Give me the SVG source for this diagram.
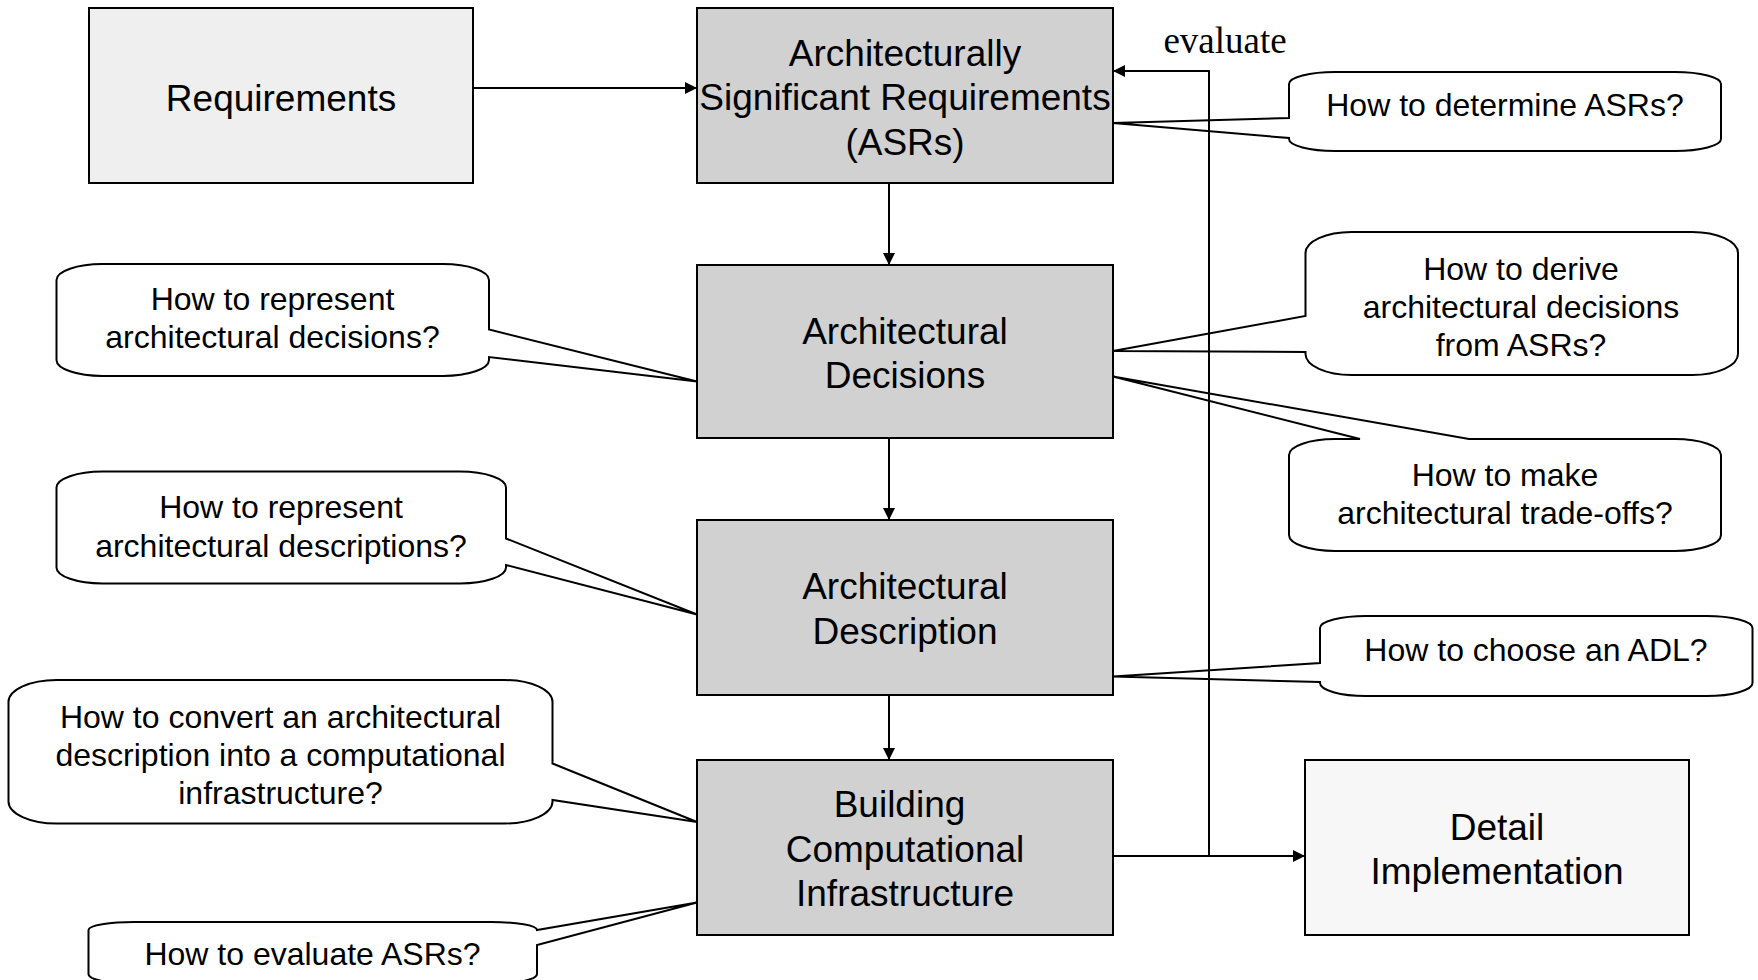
<svg xmlns="http://www.w3.org/2000/svg" width="1758" height="980" viewBox="0 0 1758 980">
<defs>
<style>
.box{stroke:#000;stroke-width:2}
.main{fill:#d1d1d1}
.light{fill:#efefef}
.lighter{fill:#f7f7f7}
.call{fill:#fff;stroke:#000;stroke-width:2;stroke-linejoin:miter}
.t{font-family:"Liberation Sans",Arial,sans-serif;font-size:37px;fill:#000;text-anchor:middle}
.ct{font-family:"Liberation Sans",Arial,sans-serif;font-size:32px;fill:#000;text-anchor:middle}
.lbl{font-family:"Liberation Serif","Times New Roman",serif;font-size:37px;fill:#000;text-anchor:middle}
.conn{fill:none;stroke:#000;stroke-width:2}
</style>
<marker id="arr" viewBox="0 0 12 12" refX="12" refY="6" markerWidth="12" markerHeight="12" markerUnits="userSpaceOnUse" orient="auto">
<path d="M0,0 L12,6 L0,12 Z" fill="#000"/>
</marker>
</defs>
<rect width="1758" height="980" fill="#fff"/>

<g id="callout-determine">
<path class="call" d="M1335,72 H1675 A46 12 0 0 1 1721,84 V139 A46 12 0 0 1 1675,151 H1335 A46 12 0 0 1 1289,139 V138 L1113,123 L1289,118 V84 A46 12 0 0 1 1335,72 Z"/>
<text class="ct" x="1505" y="116">How to determine ASRs?</text>
</g>
<g id="callout-derive">
<path class="call" d="M1351.5,232 H1692 A46 21 0 0 1 1738,253 V354 A46 21 0 0 1 1692,375 H1351.5 A46 21 0 0 1 1305.5,354 V352 L1113,351 L1305.5,316 V253 A46 21 0 0 1 1351.5,232 Z"/>
<text class="ct" x="1521" y="279.5">How to derive</text>
<text class="ct" x="1521" y="317.5">architectural decisions</text>
<text class="ct" x="1521" y="355.5">from ASRs?</text>
</g>
<g id="callout-tradeoffs">
<path class="call" d="M1289,455 A46 16 0 0 1 1335,439 H1360 L1113,376.5 L1469,439 H1675 A46 16 0 0 1 1721,455 V535 A46 16 0 0 1 1675,551 H1335 A46 16 0 0 1 1289,535 Z"/>
<text class="ct" x="1505" y="486">How to make</text>
<text class="ct" x="1505" y="524">architectural trade-offs?</text>
</g>
<g id="callout-adl">
<path class="call" d="M1366,616 H1706.5 A46 12 0 0 1 1752.5,628 V683 A46 13 0 0 1 1706.5,696 H1366 A46 13 0 0 1 1320,683 V682 L1113,676.5 L1320,663 V628 A46 12 0 0 1 1366,616 Z"/>
<text class="ct" x="1536" y="660.5">How to choose an ADL?</text>
</g>
<g id="callout-represent-decisions">
<path class="call" d="M102.5,264 H443 A46 16 0 0 1 489,280 V329.5 L697,381.5 L489,357 V360 A46 16 0 0 1 443,376 H102.5 A46 16 0 0 1 56.5,360 V280 A46 16 0 0 1 102.5,264 Z"/>
<text class="ct" x="272.5" y="309.5">How to represent</text>
<text class="ct" x="272.5" y="348">architectural decisions?</text>
</g>
<g id="callout-represent-descriptions">
<path class="call" d="M102.5,471.5 H460 A46 16 0 0 1 506,487.5 V538.5 L697,614.5 L506,565 V567.5 A46 16 0 0 1 460,583.5 H102.5 A46 16 0 0 1 56.5,567.5 V487.5 A46 16 0 0 1 102.5,471.5 Z"/>
<text class="ct" x="281" y="518">How to represent</text>
<text class="ct" x="281" y="556.5">architectural descriptions?</text>
</g>
<g id="callout-convert">
<path class="call" d="M56.5,680 H504.5 A48 22 0 0 1 552.5,702 V763.5 L697,822 L552.5,800 V801.5 A48 22 0 0 1 504.5,823.5 H56.5 A48 22 0 0 1 8.5,801.5 V702 A48 22 0 0 1 56.5,680 Z"/>
<text class="ct" x="280.5" y="728">How to convert an architectural</text>
<text class="ct" x="280.5" y="766">description into a computational</text>
<text class="ct" x="280.5" y="804">infrastructure?</text>
</g>
<g id="callout-evaluate">
<path class="call" d="M135.5,922 H491 A46 8 0 0 1 537,930 L697,902.5 L537,945 V974 A46 10 0 0 1 491,984 H135.5 A46 10 0 0 1 88.5,974 V930 A46 8 0 0 1 135.5,922 Z"/>
<text class="ct" x="312.5" y="964.5">How to evaluate ASRs?</text>
</g>

<g id="node-requirements">
<rect class="box light" x="89" y="8" width="384" height="175"/>
<text class="t" x="281" y="110.5">Requirements</text>
</g>
<g id="node-asrs">
<rect class="box main" x="697" y="8" width="416" height="175"/>
<text class="t" x="905" y="65.5">Architecturally</text>
<text class="t" x="905" y="110">Significant Requirements</text>
<text class="t" x="905" y="154.5">(ASRs)</text>
</g>
<g id="node-decisions">
<rect class="box main" x="697" y="265" width="416" height="173"/>
<text class="t" x="905" y="343.5">Architectural</text>
<text class="t" x="905" y="387.5">Decisions</text>
</g>
<g id="node-description">
<rect class="box main" x="697" y="520" width="416" height="175"/>
<text class="t" x="905" y="599">Architectural</text>
<text class="t" x="905" y="643.5">Description</text>
</g>
<g id="node-building">
<rect class="box main" x="697" y="760" width="416" height="175"/>
<text class="t" x="899.5" y="817">Building</text>
<text class="t" x="905" y="861.5">Computational</text>
<text class="t" x="905" y="906">Infrastructure</text>
</g>
<g id="node-detail">
<rect class="box lighter" x="1305" y="760" width="384" height="175"/>
<text class="t" x="1497" y="839.5">Detail</text>
<text class="t" x="1497" y="884">Implementation</text>
</g>

<g id="connectors">
<path class="conn" d="M473,88 H697" marker-end="url(#arr)"/>
<path class="conn" d="M889,183 V265" marker-end="url(#arr)"/>
<path class="conn" d="M889,438 V520" marker-end="url(#arr)"/>
<path class="conn" d="M889,695 V760" marker-end="url(#arr)"/>
<path class="conn" d="M1113,856 H1305" marker-end="url(#arr)"/>
<path class="conn" d="M1209,856 V71 H1113" marker-end="url(#arr)"/>
<text class="lbl" x="1225" y="53">evaluate</text>
</g>
</svg>
